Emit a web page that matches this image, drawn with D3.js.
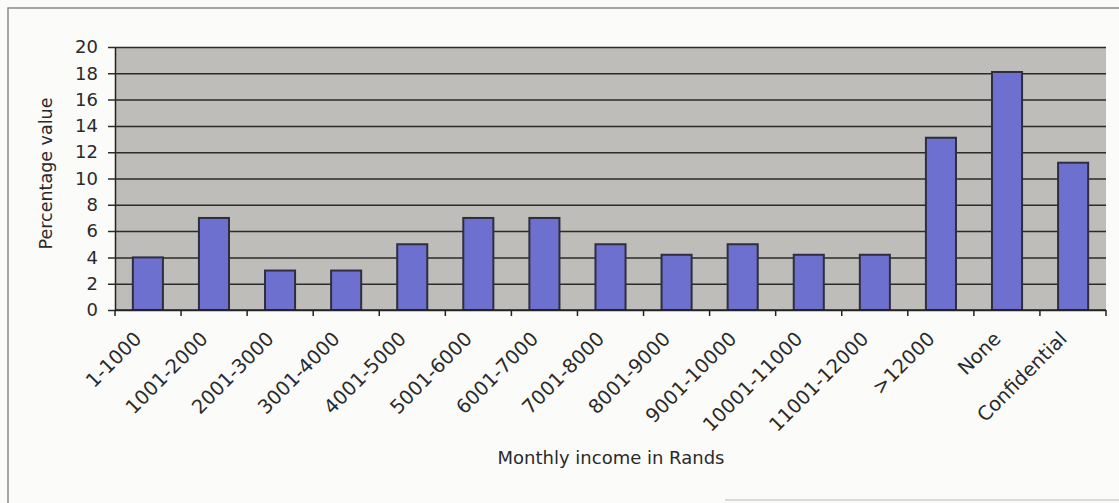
<!DOCTYPE html>
<html>
<head>
<meta charset="utf-8">
<script src="https://cdn.jsdelivr.net/npm/d3@7"></script>
<style>
  body { margin: 0; background: #fbfbfa; }
  text { font-family: "DejaVu Sans", "Liberation Sans", Arial, sans-serif; fill: #2a2a2a; }
</style>
</head>
<body>
<div id="chart"></div>
<script>
var categories = ["1-1000","1001-2000","2001-3000","3001-4000","4001-5000","5001-6000","6001-7000","7001-8000","8001-9000","9001-10000","10001-11000","11001-12000",">12000","None","Confidential"];
var values = [4, 7, 3, 3, 5, 7, 7, 5, 4.2, 5, 4.2, 4.2, 13.1, 18.1, 11.2];
var yTicks = [0, 2, 4, 6, 8, 10, 12, 14, 16, 18, 20];

var width = 1119, height = 503;
var margin = {left: 115, right: 13, top: 47, bottom: 193};

var svg = d3.select("#chart")
    .append("svg")
    .attr("width", width)
    .attr("height", height);

// outer frame of the chart (scanned page)
svg.append("path")
    .attr("d", "M8,503 L8,8 L1119,8")
    .attr("fill", "none")
    .attr("stroke", "#8a8a8a")
    .attr("stroke-width", 1.5);
svg.append("line")
    .attr("x1", 725).attr("x2", 1119)
    .attr("y1", 500).attr("y2", 500)
    .attr("stroke", "#cfcfcf")
    .attr("stroke-width", 1.5);

var x = d3.scaleBand()
    .domain(categories)
    .range([margin.left, width - margin.right])
    .paddingInner(0.545)
    .paddingOuter(0.27);

var y = d3.scaleLinear()
    .domain([0, 20])
    .range([height - margin.bottom, margin.top]);

var plotW = width - margin.right - margin.left;

// plot area
svg.append("rect")
    .attr("x", margin.left)
    .attr("y", margin.top)
    .attr("width", plotW)
    .attr("height", y(0) - margin.top)
    .attr("fill", "#bebdb9");

// gridlines + y ticks
svg.append("g")
    .attr("transform", "translate(" + margin.left + ",0)")
    .call(d3.axisLeft(y).tickValues(yTicks).tickSize(-plotW).tickSizeOuter(0).tickPadding(17))
    .call(function(g) {
        g.select(".domain").attr("stroke", "#222").attr("stroke-width", 1.5);
        g.selectAll(".tick line").attr("stroke", "#2b2b2b").attr("stroke-width", 1.5).attr("x1", -7);
        g.selectAll(".tick text").attr("font-size", 18).attr("fill", "#2a2a2a")
            .attr("font-family", "DejaVu Sans, Liberation Sans, Arial, sans-serif");
    });

// bars
svg.selectAll("rect.bar")
    .data(values)
    .enter()
    .append("rect")
    .attr("class", "bar")
    .attr("x", function(d, i) { return x(categories[i]); })
    .attr("y", function(d) { return y(d); })
    .attr("width", x.bandwidth())
    .attr("height", function(d) { return y(0) - y(d); })
    .attr("fill", "#6d70cf")
    .attr("stroke", "#2e2e3e")
    .attr("stroke-width", 2);

// x axis line with ticks between categories
var bounds = d3.range(categories.length + 1).map(function(i) { return margin.left + i * plotW / categories.length; });
svg.append("line")
    .attr("x1", margin.left).attr("x2", width - margin.right)
    .attr("y1", y(0)).attr("y2", y(0))
    .attr("stroke", "#222").attr("stroke-width", 1.5);
svg.selectAll("line.xtick")
    .data(bounds)
    .enter()
    .append("line")
    .attr("class", "xtick")
    .attr("x1", function(d) { return d; }).attr("x2", function(d) { return d; })
    .attr("y1", y(0)).attr("y2", y(0) + 6)
    .attr("stroke", "#222").attr("stroke-width", 1.5);

// category labels
svg.selectAll("text.xlab")
    .data(categories)
    .enter()
    .append("text")
    .attr("class", "xlab")
    .attr("transform", function(d) {
        return "translate(" + (x(d) + x.bandwidth() / 2 - 5) + "," + (y(0) + 30) + ") rotate(-45)";
    })
    .attr("text-anchor", "end")
    .attr("font-size", 19.5)
    .text(function(d) { return d; });

// axis titles
svg.append("text")
    .attr("transform", "translate(52," + ((margin.top + y(0)) / 2 - 5) + ") rotate(-90)")
    .attr("text-anchor", "middle")
    .attr("font-size", 17.5)
    .text("Percentage value");

svg.append("text")
    .attr("x", 611)
    .attr("y", 464)
    .attr("text-anchor", "middle")
    .attr("font-size", 18)
    .text("Monthly income in Rands");
</script>
</body>
</html>
